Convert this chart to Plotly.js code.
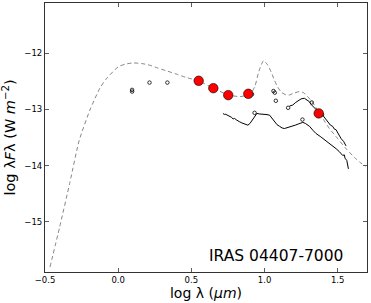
<!DOCTYPE html>
<html>
<head>
<meta charset="utf-8">
<script src="https://cdn.plot.ly/plotly-3.0.1.min.js"></script>
<style>html,body{margin:0;padding:0;background:#fff;}#chart{width:371px;height:303px;}</style>
</head>
<body>
<div id="chart"></div>
<script>
// Model SED (dashed)
const modelX = [-0.466, -0.40, -0.33, -0.266, -0.193, -0.125, -0.08, 0.0, 0.05, 0.102, 0.16, 0.216, 0.27, 0.329, 0.40, 0.466, 0.55, 0.65, 0.752, 0.83, 0.889, 0.915, 0.935, 0.961, 0.993, 1.02, 1.045, 1.068, 1.09, 1.114, 1.147, 1.17, 1.20, 1.238, 1.265, 1.29, 1.318, 1.345, 1.370, 1.40, 1.443, 1.50, 1.557, 1.62, 1.689];
const modelY = [-15.81, -15.10, -14.30, -13.55, -13.01, -12.62, -12.45, -12.24, -12.19, -12.17, -12.18, -12.21, -12.26, -12.31, -12.37, -12.43, -12.49, -12.62, -12.74, -12.77, -12.74, -12.68, -12.58, -12.32, -12.13, -12.20, -12.33, -12.48, -12.60, -12.69, -12.74, -12.74, -12.71, -12.68, -12.70, -12.76, -12.84, -12.94, -13.05, -13.17, -13.34, -13.52, -13.70, -13.87, -14.02];

// Spectrum 1 (lower, solid)
const spec1X = [0.716, 0.725, 0.73, 0.745, 0.755, 0.761, 0.775, 0.785, 0.795, 0.81, 0.82, 0.83, 0.845, 0.86, 0.875, 0.886, 0.90, 0.92, 0.935, 0.948, 0.965, 0.989, 1.01, 1.034, 1.05, 1.068, 1.085, 1.102, 1.12, 1.136, 1.15, 1.17, 1.193, 1.21, 1.23, 1.261, 1.28, 1.307, 1.33, 1.352, 1.38, 1.40, 1.42, 1.44, 1.46, 1.475, 1.489, 1.51, 1.534, 1.545, 1.55, 1.562, 1.568, 1.573];
const spec1Y = [-13.07, -13.09, -13.08, -13.10, -13.12, -13.13, -13.14, -13.17, -13.16, -13.19, -13.21, -13.22, -13.24, -13.25, -13.27, -13.28, -13.25, -13.18, -13.12, -13.07, -13.08, -13.08, -13.09, -13.10, -13.15, -13.22, -13.27, -13.30, -13.33, -13.34, -13.33, -13.32, -13.30, -13.28, -13.26, -13.23, -13.25, -13.30, -13.37, -13.43, -13.48, -13.52, -13.56, -13.60, -13.64, -13.66, -13.70, -13.75, -13.82, -13.81, -13.87, -13.91, -13.97, -14.06];

// Spectrum 2 (upper, solid)
const spec2X = [1.17, 1.193, 1.21, 1.227, 1.25, 1.272, 1.284, 1.306, 1.318, 1.335, 1.352, 1.37, 1.386, 1.397, 1.415, 1.432, 1.45, 1.465, 1.477, 1.488, 1.505, 1.523, 1.54, 1.557];
const spec2Y = [-12.94, -12.92, -12.88, -12.85, -12.81, -12.80, -12.82, -12.86, -12.91, -12.96, -13.01, -13.06, -13.09, -13.10, -13.16, -13.22, -13.28, -13.30, -13.35, -13.36, -13.44, -13.52, -13.57, -13.65];

// Photometry (small open circles)
const photX = [0.095, 0.095, 0.214, 0.336, 0.914, 0.932, 1.061, 1.07, 1.077, 1.161, 1.259, 1.323, 1.393];
const photY = [-12.65, -12.68, -12.52, -12.52, -12.73, -13.06, -12.67, -12.70, -12.845, -12.97, -13.18, -12.875, -13.09];

// Highlighted photometry (red circles)
const redX = [0.55, 0.65, 0.752, 0.889, 1.370];
const redY = [-12.488, -12.62, -12.744, -12.72, -13.07];

const label = 'IRAS 04407-7000';
const xTicks = [-0.5, 0.0, 0.5, 1.0, 1.5];
const yTicks = [-12, -13, -14, -15];

const traces = [
  {x: modelX, y: modelY, mode: 'lines', line: {color: '#666', width: 0.8, dash: '4px,3px', shape: 'spline', smoothing: 0.6}, hoverinfo: 'skip'},
  {x: spec1X, y: spec1Y, mode: 'lines', line: {color: '#000', width: 1}},
  {x: spec2X, y: spec2Y, mode: 'lines', line: {color: '#000', width: 1}},
  {x: photX, y: photY, mode: 'markers', marker: {symbol: 'circle-open', size: 3.5, color: '#000', line: {width: 0.8}}},
  {x: redX, y: redY, mode: 'markers', marker: {symbol: 'circle', size: 9.5, color: '#ff0000', line: {color: '#000', width: 0.6}}}
];

const axisCommon = {
  showgrid: false, zeroline: false, showline: true, linecolor: '#333', linewidth: 1,
  mirror: 'ticks', ticks: 'inside', ticklen: 4, tickcolor: '#333', tickwidth: 0.8,
  tickfont: {family: 'DejaVu Sans', size: 8.5, color: '#000'}
};

const layout = {
  width: 371, height: 303,
  margin: {l: 45, r: 4, t: 3, b: 31},
  paper_bgcolor: '#fff', plot_bgcolor: '#fff',
  showlegend: false,
  font: {family: 'DejaVu Sans', color: '#000'},
  xaxis: Object.assign({}, axisCommon, {
    range: [-0.5, 1.7], tickvals: xTicks, tickformat: '.1f',
    title: {text: 'log λ (<i>μm</i>)', font: {family: 'DejaVu Sans', size: 14}, standoff: 2}
  }),
  yaxis: Object.assign({}, axisCommon, {
    range: [-15.9, -11.1], tickvals: yTicks,
    title: {text: 'log λ<i>F</i>λ (W <i>m</i><sup>−2</sup>)', font: {family: 'DejaVu Sans', size: 14.5}, standoff: 5}
  }),
  annotations: [{
    xref: 'paper', yref: 'paper', x: 0.932, y: 0.06, xanchor: 'right', yanchor: 'middle',
    text: label, showarrow: false, font: {family: 'DejaVu Sans', size: 15.5, color: '#000'}
  }]
};

Plotly.newPlot('chart', traces, layout, {displayModeBar: false, staticPlot: true});
</script>
</body>
</html>
